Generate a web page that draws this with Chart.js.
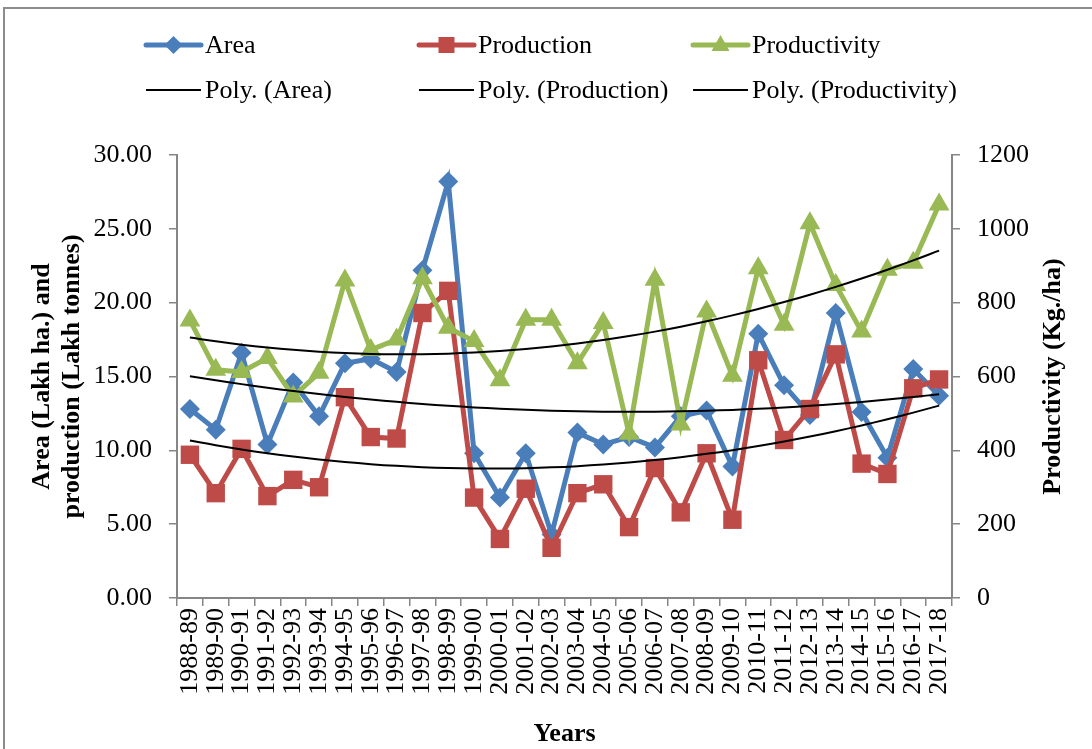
<!DOCTYPE html>
<html>
<head>
<meta charset="utf-8">
<script src="https://cdn.jsdelivr.net/npm/chart.js@4.4.1/dist/chart.umd.min.js"></script>
<style>
  html, body { margin: 0; padding: 0; background: #fff; }
  #wrap { position: relative; width: 1092px; height: 749px; overflow: hidden; }
  #frame { position: absolute; left: 3px; top: 7px; width: 1100px; height: 760px; border: 2px solid #8c8c8c; pointer-events: none; }
</style>
</head>
<body>
<div id="wrap">
  <canvas id="myChart" width="1092" height="749"></canvas>
  <div id="frame"></div>
</div>
<script>
var years = ["1988-89", "1989-90", "1990-91", "1991-92", "1992-93", "1993-94", "1994-95", "1995-96",
  "1996-97", "1997-98", "1998-99", "1999-00", "2000-01", "2001-02", "2002-03", "2003-04", "2004-05",
  "2005-06", "2006-07", "2007-08", "2008-09", "2009-10", "2010-11", "2011-12", "2012-13", "2013-14",
  "2014-15", "2015-16", "2016-17", "2017-18"];

// Lakh ha.
var area = [12.8, 11.4, 16.6, 10.4, 14.6, 12.3, 15.9, 16.2, 15.3, 22.2, 28.2, 9.8, 6.8, 9.8, 4.3,
  11.2, 10.4, 10.9, 10.2, 12.3, 12.7, 8.9, 17.9, 14.4, 12.4, 19.3, 12.6, 9.5, 15.5, 13.7];

// Lakh tonnes
var production = [9.7, 7.1, 10.1, 6.9, 8.0, 7.5, 13.6, 10.9, 10.8, 19.3, 20.8, 6.8, 4.0, 7.4, 3.4,
  7.1, 7.7, 4.8, 8.8, 5.8, 9.8, 5.3, 16.1, 10.7, 12.8, 16.5, 9.1, 8.4, 14.2, 14.8];

// Kg./ha
var productivity = [752, 618, 612, 650, 546, 610, 860, 672, 700, 866, 732, 696, 590, 754, 754,
  636, 745, 445, 862, 470, 776, 602, 893, 740, 1015, 848, 722, 889, 908, 1066];

var yLeftMax = 30, yLeftStep = 5;
var yRightMax = 1200, yRightStep = 200;

// second order least squares trendline, like the spreadsheet "Poly." trendline
function polyFit(vals) {
  var n = vals.length, s = [0, 0, 0, 0, 0], t = [0, 0, 0];
  for (var i = 0; i < n; i++) {
    var x = i + 1, p = 1;
    for (var k = 0; k < 5; k++) { s[k] += p; if (k < 3) t[k] += p * vals[i]; p *= x; }
  }
  var m = [[s[0], s[1], s[2], t[0]], [s[1], s[2], s[3], t[1]], [s[2], s[3], s[4], t[2]]];
  for (var c = 0; c < 3; c++) {
    for (var r = c + 1; r < 3; r++) {
      var f = m[r][c] / m[c][c];
      for (var j = c; j < 4; j++) m[r][j] -= f * m[c][j];
    }
  }
  var co = [0, 0, 0];
  for (var r2 = 2; r2 >= 0; r2--) {
    var sum = m[r2][3];
    for (var j2 = r2 + 1; j2 < 3; j2++) sum -= m[r2][j2] * co[j2];
    co[r2] = sum / m[r2][r2];
  }
  return vals.map(function(v, i) { var x = i + 1; return co[0] + co[1] * x + co[2] * x * x; });
}

var serif = "'Liberation Serif', 'Times New Roman', serif";
var blue = "#4A7EBB", red = "#BE4B48", green = "#98B954";

var legendItems = [
  { text: "Area", color: blue, marker: "diamond", x: 205, y: 45, width: 5 },
  { text: "Production", color: red, marker: "square", x: 478, y: 45, width: 5 },
  { text: "Productivity", color: green, marker: "triangle", x: 752, y: 45, width: 5 },
  { text: "Poly. (Area)", color: "#000", marker: null, x: 205, y: 90, width: 2 },
  { text: "Poly. (Production)", color: "#000", marker: null, x: 478, y: 90, width: 2 },
  { text: "Poly. (Productivity)", color: "#000", marker: null, x: 752, y: 90, width: 2 }
];

var legendPlugin = {
  id: "sheetLegend",
  afterDraw: function(chart) {
    var ctx = chart.ctx;
    ctx.save();
    legendItems.forEach(function(it) {
      var x0 = it.x - 59, x1 = it.x - 4, cx = (x0 + x1) / 2;
      ctx.strokeStyle = it.color;
      ctx.lineWidth = it.width;
      ctx.lineCap = it.marker ? "round" : "butt";
      ctx.beginPath(); ctx.moveTo(x0, it.y); ctx.lineTo(x1, it.y); ctx.stroke();
      ctx.fillStyle = it.color;
      ctx.beginPath();
      if (it.marker === "diamond") {
        ctx.moveTo(cx, it.y - 9); ctx.lineTo(cx + 9, it.y); ctx.lineTo(cx, it.y + 9); ctx.lineTo(cx - 9, it.y);
      } else if (it.marker === "square") {
        ctx.rect(cx - 8, it.y - 8, 16, 16);
      } else if (it.marker === "triangle") {
        ctx.moveTo(cx, it.y - 10); ctx.lineTo(cx + 9, it.y + 6); ctx.lineTo(cx - 9, it.y + 6);
      }
      ctx.closePath();
      if (it.marker) ctx.fill();
      ctx.fillStyle = "#000";
      ctx.font = "26px " + serif;
      ctx.textAlign = "left";
      ctx.textBaseline = "middle";
      ctx.fillText(it.text, it.x, it.y + 1);
    });
    // right axis title reads bottom to top
    var area2 = chart.chartArea;
    ctx.translate(1053, (area2.top + area2.bottom) / 2);
    ctx.rotate(-Math.PI / 2);
    ctx.font = "bold 26px " + serif;
    ctx.textAlign = "center";
    ctx.textBaseline = "middle";
    ctx.fillText("Productivity (Kg./ha)", 0, 0);
    ctx.restore();
  }
};

var axisGrey = "#868686";

window.onload = function() {
  var ctx = document.getElementById("myChart").getContext("2d");
  new Chart(ctx, {
    type: "line",
    data: {
      labels: years,
      datasets: [
        { label: "Area", data: area, yAxisID: "y", order: 4, borderColor: blue, backgroundColor: blue,
          borderWidth: 5, pointStyle: "rectRot", pointRadius: 10, pointBorderWidth: 0, tension: 0 },
        { label: "Production", data: production, yAxisID: "y", order: 3, borderColor: red, backgroundColor: red,
          borderWidth: 5, pointStyle: "rect", pointRadius: 13, pointBorderWidth: 0, tension: 0 },
        { label: "Productivity", data: productivity, yAxisID: "y1", order: 2, borderColor: green, backgroundColor: green,
          borderWidth: 5, pointStyle: "triangle", pointRadius: 12, pointBorderWidth: 0, tension: 0 },
        { label: "Poly. (Area)", data: polyFit(area), yAxisID: "y", order: 1, borderColor: "#000",
          borderWidth: 2, pointRadius: 0, tension: 0.4 },
        { label: "Poly. (Production)", data: polyFit(production), yAxisID: "y", order: 1, borderColor: "#000",
          borderWidth: 2, pointRadius: 0, tension: 0.4 },
        { label: "Poly. (Productivity)", data: polyFit(productivity), yAxisID: "y1", order: 1, borderColor: "#000",
          borderWidth: 2, pointRadius: 0, tension: 0.4 }
      ]
    },
    options: {
      responsive: false,
      animation: false,
      devicePixelRatio: 1,
      layout: { padding: { top: 155, left: 0, right: 0, bottom: 0 } },
      plugins: { legend: { display: false }, tooltip: { enabled: false } },
      scales: {
        x: {
          offset: true,
          grid: { display: true, drawOnChartArea: false, drawTicks: true, tickLength: 8, color: axisGrey, lineWidth: 1.5, offset: true },
          border: { color: axisGrey, width: 2 },
          ticks: { autoSkip: false, minRotation: 90, maxRotation: 90, padding: 2, color: "#000", font: { family: serif, size: 26 } },
          title: { display: true, text: "Years", color: "#000", font: { family: serif, size: 26, weight: "bold", lineHeight: 1.15 }, padding: { top: 0, bottom: 0 } },
          afterFit: function(s) { s.height = 151; }
        },
        y: {
          position: "left",
          min: 0, max: yLeftMax,
          grid: { display: true, drawOnChartArea: false, drawTicks: true, tickLength: 8, color: axisGrey, lineWidth: 1.5 },
          border: { color: axisGrey, width: 2 },
          ticks: { stepSize: yLeftStep, padding: 17, color: "#000", font: { family: serif, size: 26 },
            callback: function(v) { return v.toFixed(2); } },
          title: { display: true, text: ["Area (Lakh ha.) and", "production (Lakh tonnes)"], color: "#000",
            font: { family: serif, size: 26, weight: "bold", lineHeight: 1.15 }, padding: { top: 27, bottom: 0 } },
          afterFit: function(s) { s.width = 177; }
        },
        y1: {
          position: "right",
          min: 0, max: yRightMax,
          grid: { display: true, drawOnChartArea: false, drawTicks: true, tickLength: 8, color: axisGrey, lineWidth: 1.5 },
          border: { color: axisGrey, width: 2 },
          ticks: { stepSize: yRightStep, padding: 17, color: "#000", font: { family: serif, size: 26 },
            callback: function(v) { return String(v); } },
          afterFit: function(s) { s.width = 140; }
        }
      }
    },
    plugins: [legendPlugin]
  });
};
</script>
</body>
</html>
